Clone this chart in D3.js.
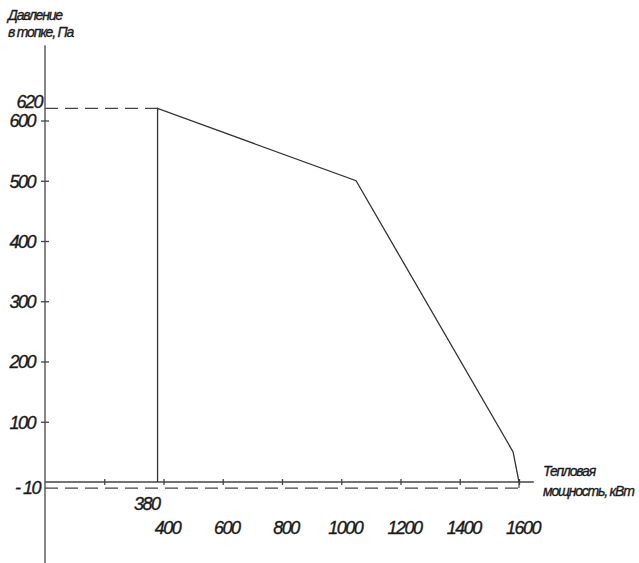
<!DOCTYPE html>
<html><head><meta charset="utf-8">
<script src="https://cdn.jsdelivr.net/npm/d3@7"></script>
<style>
body{margin:0;background:#fff;}
text{font-family:"Liberation Sans Narrow","Liberation Sans",Arial,sans-serif;font-style:italic;fill:#1a1a1a;stroke:#1a1a1a;stroke-width:0.35px;}
</style></head>
<body><svg id="c" width="639" height="563"></svg>
<script>
// data
const powerKW = [380, 380, 1050, 1580, 1600];
const pressurePa = [0, 620, 500, 50, 0];
const xTicks = [200, 400, 600, 800, 1000, 1200, 1400, 1600];
const xTickLabels = [400, 600, 800, 1000, 1200, 1400, 1600];
const yTicks = [100, 200, 300, 400, 500, 600];
const refPressure = [620, -10];
const refPower = [380, 1600];
const xExtent = [0, 1650];
const yExtent = [-135, 725];
const yTitle = ["Давление", "в топке, Па"];
const xTitle = ["Тепловая", "мощность, кВт"];

const svg = d3.select("#c");
const x = d3.scaleLinear().domain([0, 1600]).range([45, 519]);
const y = d3.scaleLinear().domain([0, 600]).range([482, 120.5]);
const axisColor = "#444";

// y axis line
svg.append("line").attr("x1", x(0)).attr("x2", x(0))
  .attr("y1", y(yExtent[1])).attr("y2", y(yExtent[0]))
  .attr("stroke", axisColor).attr("stroke-width", 1.3);
// x axis line
svg.append("line").attr("x1", x(xExtent[0])).attr("x2", x(xExtent[1]))
  .attr("y1", y(0)).attr("y2", y(0))
  .attr("stroke", axisColor).attr("stroke-width", 1.3);

// y ticks via d3 axis
const gy = svg.append("g").attr("transform", `translate(${x(0)},0)`)
  .call(d3.axisLeft(y).tickValues(yTicks).tickSizeInner(4).tickSizeOuter(0).tickPadding(6));
gy.select(".domain").remove();
gy.selectAll(".tick line").attr("x1", 4).attr("stroke", axisColor).attr("stroke-width", 1.3);
gy.selectAll(".tick text").attr("font-size", 18).attr("letter-spacing", -1.5)
  .attr("font-family", null).attr("fill", null).attr("dy", "0.35em");

// x ticks via d3 axis
const gx = svg.append("g").attr("transform", `translate(0,${y(0)})`)
  .call(d3.axisBottom(x).tickValues(xTicks).tickSizeInner(3).tickSizeOuter(0).tickFormat(""));
gx.select(".domain").remove();
gx.selectAll(".tick line").attr("y1", -3).attr("stroke", axisColor).attr("stroke-width", 1.3);

// x tick labels
svg.append("g").selectAll("text").data(xTickLabels).join("text")
  .attr("x", d => x(d) + 4).attr("y", 534)
  .attr("text-anchor", "middle").attr("font-size", 18).attr("letter-spacing", -1.5)
  .text(d => d);

// dashed reference lines
const dash = "13,7";
svg.append("line").attr("x1", x(0)).attr("x2", x(refPower[0]))
  .attr("y1", y(refPressure[0])).attr("y2", y(refPressure[0]))
  .attr("stroke", axisColor).attr("stroke-width", 1.2).attr("stroke-dasharray", dash);
svg.append("line").attr("x1", x(0)).attr("x2", x(refPower[1]))
  .attr("y1", y(refPressure[1])).attr("y2", y(refPressure[1]))
  .attr("stroke", axisColor).attr("stroke-width", 1.2).attr("stroke-dasharray", dash);
svg.append("line").attr("x1", x(refPower[1])).attr("x2", x(refPower[1]))
  .attr("y1", y(refPressure[1])).attr("y2", y(0))
  .attr("stroke", axisColor).attr("stroke-width", 1.2);

// reference labels
svg.append("text").attr("x", 42).attr("y", y(refPressure[0]))
  .attr("text-anchor", "end").attr("font-size", 18).attr("letter-spacing", -1.5)
  .text(refPressure[0]);
svg.append("text").attr("x", 40).attr("y", y(refPressure[1])).attr("dy", "0.35em")
  .attr("text-anchor", "end").attr("font-size", 18).attr("letter-spacing", -1.5)
  .text("- " + Math.abs(refPressure[1]));
svg.append("text").attr("x", x(refPower[0]) + 2).attr("y", 510)
  .attr("text-anchor", "end").attr("font-size", 18).attr("letter-spacing", -1.5)
  .text(refPower[0]);

// curve
const pts = powerKW.map((p, i) => [p, pressurePa[i]]);
svg.append("path").datum(pts)
  .attr("d", d3.line().x(d => x(d[0])).y(d => y(d[1])))
  .attr("fill", "none").attr("stroke", "#333").attr("stroke-width", 1.3);

// titles
svg.append("g").selectAll("text").data(yTitle).join("text")
  .attr("x", 8).attr("y", (d, i) => 20 + i * 17)
  .attr("font-size", 14).attr("letter-spacing", -1.2).text(d => d);
svg.append("g").selectAll("text").data(xTitle).join("text")
  .attr("x", 543).attr("y", (d, i) => 476 + i * 20)
  .attr("font-size", 14).attr("letter-spacing", -1.2).text(d => d);
</script></body></html>
